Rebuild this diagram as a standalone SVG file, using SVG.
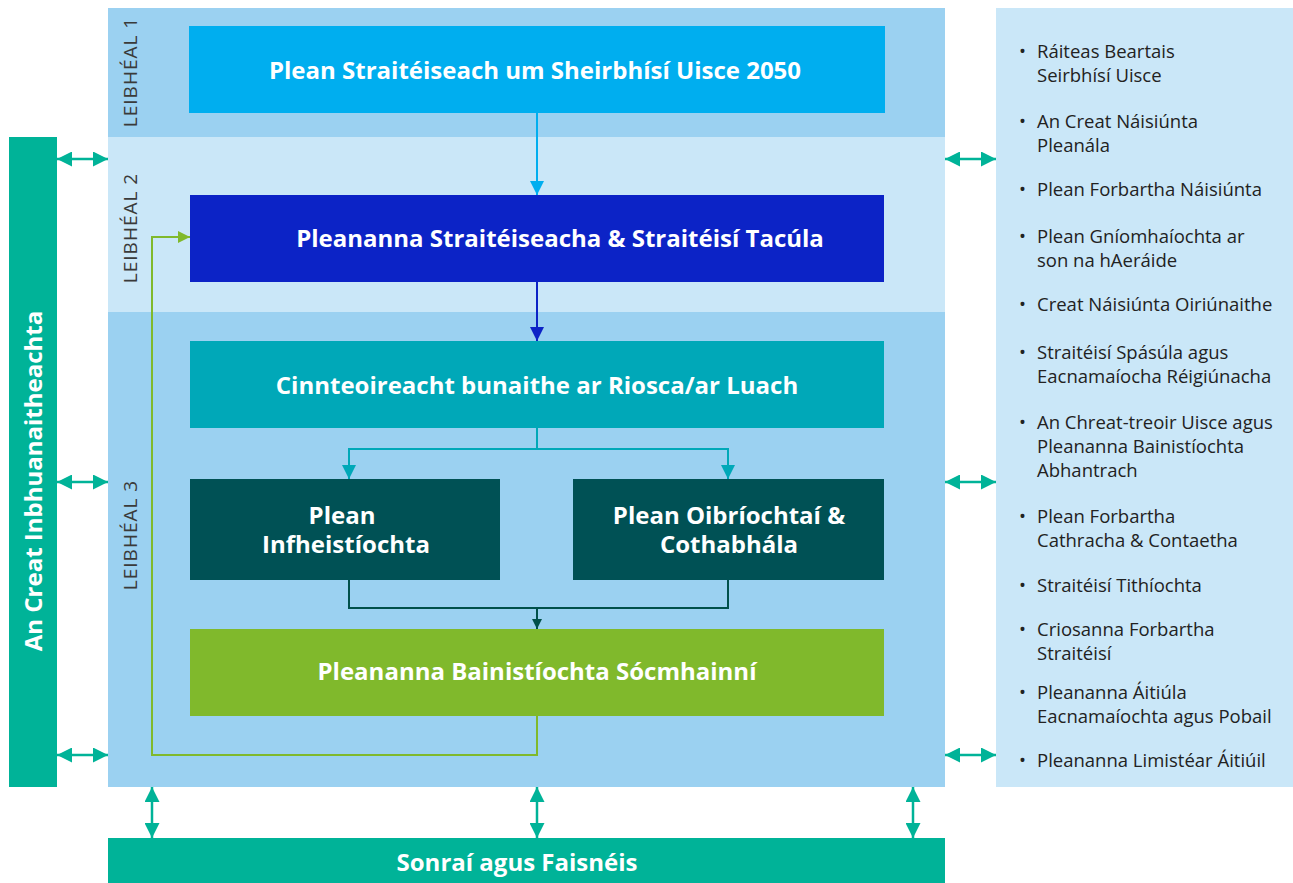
<svg xmlns="http://www.w3.org/2000/svg" width="1293" height="883" viewBox="0 0 1293 883">
<style>
.t{font-family:"Open Sans","Noto Sans",sans-serif;font-weight:bold;fill:#fff;text-anchor:middle;font-size:24px}
.lvl{font-family:"Open Sans","Noto Sans",sans-serif;font-size:19px;fill:#3a3a3a;text-anchor:middle;letter-spacing:1px}
.li{font-family:"Open Sans","Noto Sans",sans-serif;font-size:18.5px;fill:#222}
.c{fill:none;stroke-width:2}
</style>
<defs>
<marker id="a1" viewBox="0 0 10 10" refX="10" refY="5" markerWidth="7" markerHeight="7" orient="auto" markerUnits="strokeWidth"><path d="M0,0L10,5L0,10z" fill="#00aeef"/></marker>
<marker id="a2" viewBox="0 0 10 10" refX="10" refY="5" markerWidth="7" markerHeight="7" orient="auto" markerUnits="strokeWidth"><path d="M0,0L10,5L0,10z" fill="#0c23c6"/></marker>
<marker id="a3" viewBox="0 0 10 10" refX="10" refY="5" markerWidth="7" markerHeight="7" orient="auto" markerUnits="strokeWidth"><path d="M0,0L10,5L0,10z" fill="#00a8b8"/></marker>
<marker id="a4" viewBox="0 0 10 10" refX="10" refY="5" markerWidth="5" markerHeight="5" orient="auto" markerUnits="strokeWidth"><path d="M0,0L10,5L0,10z" fill="#00504a"/></marker>
<marker id="a5" viewBox="0 0 10 10" refX="10" refY="5" markerWidth="6" markerHeight="6" orient="auto" markerUnits="strokeWidth"><path d="M0,0L10,5L0,10z" fill="#80b92c"/></marker>
<marker id="t" viewBox="0 0 10 10" refX="10" refY="5" markerWidth="6" markerHeight="6" orient="auto-start-reverse" markerUnits="strokeWidth"><path d="M0,0L10,5L0,10z" fill="#00b398"/></marker>
</defs>
<rect width="1293" height="883" fill="#fff"/>
<g id="bands">
<rect x="108" y="8" width="837" height="129" fill="#9bd1f1"/>
<rect x="108" y="137" width="837" height="175" fill="#cae7f8"/>
<rect x="108" y="312" width="837" height="475" fill="#9bd1f1"/>
<text class="lvl" transform="translate(137,72) rotate(-90)">LEIBHÉAL 1</text>
<text class="lvl" transform="translate(137,228) rotate(-90)">LEIBHÉAL 2</text>
<text class="lvl" transform="translate(137,535) rotate(-90)">LEIBHÉAL 3</text>
</g>
<g id="left-bar">
<rect x="9" y="137" width="48" height="650" fill="#00b398"/>
<text class="t" transform="translate(42,481) rotate(-90)">An Creat Inbhuanaitheachta</text>
</g>
<g id="right-list">
<rect x="996" y="8" width="297" height="779" fill="#cae7f8"/>
<g class="li">
<text x="1019" y="58">•</text><text x="1037" y="58">Ráiteas Beartais</text><text x="1037" y="82">Seirbhísí Uisce</text>
<text x="1019" y="128">•</text><text x="1037" y="128">An Creat Náisiúnta</text><text x="1037" y="152">Pleanála</text>
<text x="1019" y="196">•</text><text x="1037" y="196">Plean Forbartha Náisiúnta</text>
<text x="1019" y="243">•</text><text x="1037" y="243">Plean Gníomhaíochta ar</text><text x="1037" y="267">son na hAeráide</text>
<text x="1019" y="311">•</text><text x="1037" y="311">Creat Náisiúnta Oiriúnaithe</text>
<text x="1019" y="359">•</text><text x="1037" y="359">Straitéisí Spásúla agus</text><text x="1037" y="383">Eacnamaíocha Réigiúnacha</text>
<text x="1019" y="429">•</text><text x="1037" y="429">An Chreat-treoir Uisce agus</text><text x="1037" y="453">Pleananna Bainistíochta</text><text x="1037" y="477">Abhantrach</text>
<text x="1019" y="523">•</text><text x="1037" y="523">Plean Forbartha</text><text x="1037" y="547">Cathracha &amp; Contaetha</text>
<text x="1019" y="592">•</text><text x="1037" y="592">Straitéisí Tithíochta</text>
<text x="1019" y="636">•</text><text x="1037" y="636">Criosanna Forbartha</text><text x="1037" y="660">Straitéisí</text>
<text x="1019" y="699">•</text><text x="1037" y="699">Pleananna Áitiúla</text><text x="1037" y="723">Eacnamaíochta agus Pobail</text>
<text x="1019" y="767">•</text><text x="1037" y="767">Pleananna Limistéar Áitiúil</text>
</g>
</g>
<g id="n1"><rect x="189" y="26" width="696" height="87" fill="#00aeef"/><text class="t" x="535" y="79">Plean Straitéiseach um Sheirbhísí Uisce 2050</text></g>
<g id="n2"><rect x="190" y="195" width="694" height="87" fill="#0c23c6"/><text class="t" x="560" y="247">Pleananna Straitéiseacha &amp; Straitéisí Tacúla</text></g>
<g id="n3"><rect x="190" y="341" width="694" height="87" fill="#00a8b8"/><text class="t" x="537" y="394">Cinnteoireacht bunaithe ar Riosca/ar Luach</text></g>
<g id="n4"><rect x="190" y="479" width="310" height="101" fill="#005155"/><text class="t" x="342" y="524">Plean</text><text class="t" x="346" y="553">Infheistíochta</text></g>
<g id="n5"><rect x="573" y="479" width="311" height="101" fill="#005155"/><text class="t" x="729" y="524">Plean Oibríochtaí &amp;</text><text class="t" x="729" y="553">Cothabhála</text></g>
<g id="n6"><rect x="190" y="629" width="694" height="87" fill="#80b92c"/><text class="t" x="537" y="680">Pleananna Bainistíochta Sócmhainní</text></g>
<g id="bottom-bar"><rect x="108" y="838" width="837" height="45" fill="#00b398"/><text class="t" x="517" y="871">Sonraí agus Faisnéis</text></g>
<g id="connectors">
<path class="c" stroke="#00aeef" d="M537,113V195" marker-end="url(#a1)"/>
<path class="c" stroke="#0c23c6" d="M537,282V341" marker-end="url(#a2)"/>
<path class="c" stroke="#00a8b8" d="M537,428V449H349V479" marker-end="url(#a3)"/>
<path class="c" stroke="#00a8b8" d="M537,449H728V479" marker-end="url(#a3)"/>
<path class="c" stroke="#00504a" stroke-width="3" d="M349,580V608H728V580"/>
<path class="c" stroke="#00504a" stroke-width="2.5" d="M537,608V629" marker-end="url(#a4)"/>
<path class="c" stroke="#80b92c" stroke-width="2.5" d="M537,716V755H152V237H190" marker-end="url(#a5)"/>
<g stroke="#00b398" stroke-width="2.5">
<path d="M57,159H108" marker-start="url(#t)" marker-end="url(#t)"/>
<path d="M57,482H108" marker-start="url(#t)" marker-end="url(#t)"/>
<path d="M57,755H108" marker-start="url(#t)" marker-end="url(#t)"/>
<path d="M945,159H996" marker-start="url(#t)" marker-end="url(#t)"/>
<path d="M945,482H996" marker-start="url(#t)" marker-end="url(#t)"/>
<path d="M945,755H996" marker-start="url(#t)" marker-end="url(#t)"/>
<path d="M152,787V838" marker-start="url(#t)" marker-end="url(#t)"/>
<path d="M537,787V838" marker-start="url(#t)" marker-end="url(#t)"/>
<path d="M913,787V838" marker-start="url(#t)" marker-end="url(#t)"/>
</g>
</g>
</svg>
